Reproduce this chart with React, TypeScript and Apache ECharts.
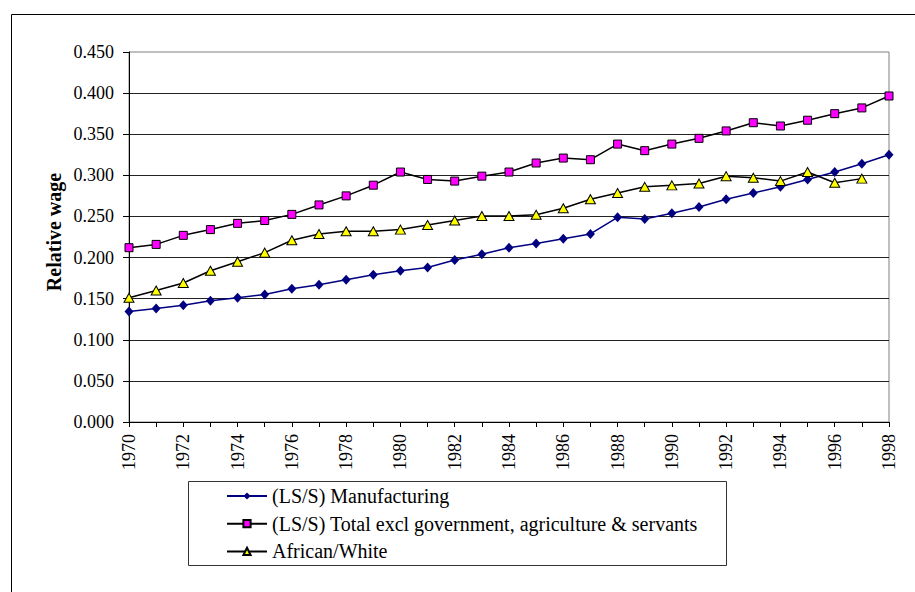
import React, { useEffect, useRef } from "react";
import * as echarts from "echarts";

// Years on the category axis
const years = [
  "1970", "1971", "1972", "1973", "1974", "1975", "1976", "1977", "1978", "1979",
  "1980", "1981", "1982", "1983", "1984", "1985", "1986", "1987", "1988", "1989",
  "1990", "1991", "1992", "1993", "1994", "1995", "1996", "1997", "1998",
];

// (LS/S) Manufacturing
const manufacturing = [
  0.1345, 0.138, 0.142, 0.1475, 0.151, 0.155, 0.162, 0.167, 0.173, 0.179,
  0.184, 0.188, 0.197, 0.204, 0.212, 0.217, 0.223, 0.2287, 0.249, 0.247,
  0.254, 0.2615, 0.271, 0.2785, 0.286, 0.295, 0.304, 0.314, 0.325,
];

// (LS/S) Total excl government, agriculture & servants
const totalExcl = [
  0.212, 0.216, 0.227, 0.234, 0.2416, 0.245, 0.2525, 0.264, 0.275, 0.288,
  0.304, 0.295, 0.293, 0.299, 0.304, 0.315, 0.321, 0.319, 0.338, 0.33,
  0.338, 0.345, 0.354, 0.364, 0.36, 0.367, 0.375, 0.382, 0.3965,
];

// African/White (no observation for 1998)
const africanWhite = [
  0.151, 0.16, 0.169, 0.184, 0.195, 0.206, 0.221, 0.2287, 0.232, 0.232,
  0.234, 0.2396, 0.245, 0.2505, 0.2505, 0.252, 0.26, 0.271, 0.2785, 0.286,
  0.2878, 0.29, 0.299, 0.297, 0.293, 0.304, 0.291, 0.296, null,
];

const seriesNames = [
  "(LS/S) Manufacturing",
  "(LS/S) Total excl government, agriculture & servants",
  "African/White",
];

const yAxisTitle = "Relative wage";

const SERIF = "Liberation Serif, Times New Roman, DejaVu Serif, serif";

export default function App() {
  const ref = useRef<HTMLDivElement>(null);

  useEffect(() => {
    if (!ref.current) return;
    const chart = echarts.init(ref.current, undefined, { renderer: "svg" });

    chart.setOption({
      animation: false,
      backgroundColor: "#ffffff",
      textStyle: { fontFamily: SERIF, color: "#000" },
      grid: {
        left: 129,
        right: 26,
        top: 52,
        bottom: 170,
        show: true,
        borderColor: "#808080",
        borderWidth: 1,
        backgroundColor: "transparent",
      },
      xAxis: {
        type: "category",
        data: years,
        boundaryGap: false,
        axisLine: { show: true, lineStyle: { color: "#000", width: 1 } },
        axisTick: {
          show: true,
          interval: 0,
          length: 5,
          lineStyle: { color: "#000" },
        },
        axisLabel: {
          interval: 1,
          rotate: 90,
          margin: 12,
          fontFamily: SERIF,
          fontSize: 18,
          color: "#000",
        },
        splitLine: { show: false },
      },
      yAxis: {
        type: "value",
        min: 0,
        max: 0.45,
        interval: 0.05,
        axisLine: { show: true, lineStyle: { color: "#000", width: 1 } },
        axisTick: { show: true, length: 6, lineStyle: { color: "#000" } },
        axisLabel: {
          margin: 15,
          fontFamily: SERIF,
          fontSize: 18,
          color: "#000",
          formatter: (v: number) => v.toFixed(3),
        },
        splitLine: {
          show: true,
          showMaxLine: false,
          lineStyle: { color: "#222", width: 1 },
        },
      },
      legend: {
        orient: "vertical",
        left: 226,
        top: 486,
        padding: 0,
        itemWidth: 40,
        itemHeight: 9,
        itemGap: 7.7,
        textStyle: { fontFamily: SERIF, fontSize: 20, color: "#000" },
        data: seriesNames,
      },
      graphic: [
        {
          type: "rect",
          shape: { x: 11.5, y: 14.5, width: 1000, height: 1000 },
          style: { fill: "none", stroke: "#000", lineWidth: 1 },
          silent: true,
          z: -10,
        },
        {
          type: "rect",
          shape: { x: 188.5, y: 481.5, width: 538, height: 84 },
          style: { fill: "none", stroke: "#333", lineWidth: 1 },
          silent: true,
        },
        {
          type: "text",
          x: 54,
          y: 232,
          rotation: Math.PI / 2,
          style: {
            text: yAxisTitle,
            fontFamily: SERIF,
            fontSize: 20,
            fontWeight: "bold",
            fill: "#000",
            align: "center",
            verticalAlign: "middle",
          },
          silent: true,
        },
      ],
      series: [
        {
          name: seriesNames[0],
          type: "line",
          data: manufacturing,
          symbol: "diamond",
          symbolSize: [9, 10],
          showAllSymbol: true,
          lineStyle: { color: "#000080", width: 1.5 },
          itemStyle: { color: "#000080" },
        },
        {
          name: seriesNames[1],
          type: "line",
          data: totalExcl,
          symbol: "rect",
          symbolSize: 8,
          showAllSymbol: true,
          lineStyle: { color: "#000", width: 1.5 },
          itemStyle: { color: "#FF00FF", borderColor: "#000", borderWidth: 1 },
        },
        {
          name: seriesNames[2],
          type: "line",
          data: africanWhite,
          symbol: "triangle",
          symbolSize: [10, 9],
          showAllSymbol: true,
          lineStyle: { color: "#000", width: 1.5 },
          itemStyle: { color: "#FFFF00", borderColor: "#000", borderWidth: 1 },
        },
      ],
    });

    return () => chart.dispose();
  }, []);

  return (
    <div
      ref={ref}
      style={{ position: "absolute", left: 0, top: 0, width: 915, height: 592 }}
    />
  );
}
